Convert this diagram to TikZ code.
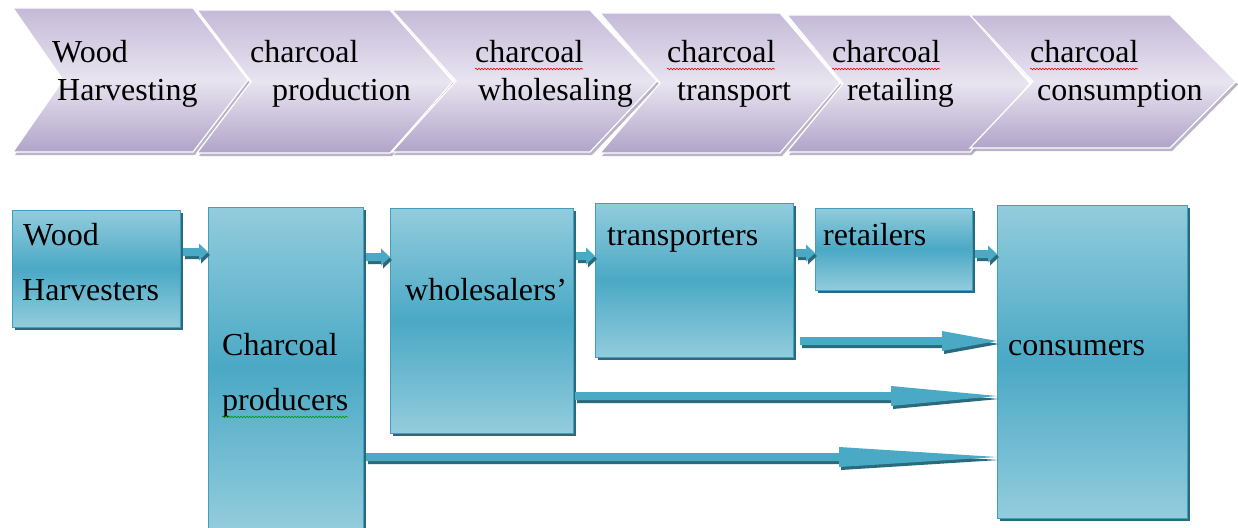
\documentclass[tikz,border=0pt]{standalone}
\usepackage{fontspec}
\setmainfont{Liberation Serif}
\newfontfamily\timesf{Liberation Serif}
\usetikzlibrary{shadows,calc,decorations.pathmorphing}
\definecolor{chevlight}{HTML}{E8E4F0}
\definecolor{chevtop}{HTML}{C4BAD8}
\definecolor{chevbot}{HTML}{B0A4C9}
\definecolor{chevshadow}{HTML}{A9A2B8}
\definecolor{teallight}{HTML}{93CCDD}
\definecolor{tealmid}{HTML}{4AA9C5}
\definecolor{tealline}{HTML}{3F9FBC}
\definecolor{tealshadow}{HTML}{2B6A7C}
\newcommand\chevshape[6]{%
  \pgfmathsetmacro\chvm{(#4+#5)/2}%
  \path[chevron] (#1,#4) -- (#2,#4) -- (#3,\chvm) -- (#2,#5) -- (#1,#5) -- (#6,\chvm) -- cycle;}
% block arrow: #1 start, #2 end, #3 shaft half, #4 head half, #5 head length, #6 start shift
\newcommand\blockarr[6]{%
  \fill[tealshadow,transform canvas={xshift=2pt,yshift=-3pt}] let \p1=#1, \p2=#2 in
    (\x1+#6,\y1+#3) -- (\x2-#5,\y1+#3) -- (\x2-#5,\y1+#4) -- (\x2,\y1) -- (\x2-#5,\y1-#4) -- (\x2-#5,\y1-#3) -- (\x1+#6,\y1-#3) -- cycle;
  \fill[tealmid] let \p1=#1, \p2=#2 in
    (\x1+#6,\y1+#3) -- (\x2-#5,\y1+#3) -- (\x2-#5,\y1+#4) -- (\x2,\y1) -- (\x2-#5,\y1-#4) -- (\x2-#5,\y1-#3) -- (\x1+#6,\y1-#3) -- cycle;}
\begin{document}
\begin{tikzpicture}[x=1pt,y=-1pt,
  chevron/.style={top color=chevtop,bottom color=chevbot,middle color=chevlight,draw=white,line width=1.2pt,
     drop shadow={shadow xshift=2pt,shadow yshift=-3pt,fill=chevshadow,opacity=0.8}},
  tbox/.style={draw=tealline,line width=0.8pt,top color=teallight,bottom color=teallight,middle color=tealmid,
     anchor=north west,inner sep=0pt,outer sep=0pt,
     drop shadow={shadow xshift=3pt,shadow yshift=-3pt,fill=tealshadow,opacity=1}},
  lbl/.style={anchor=base west,inner sep=0pt,font=\timesf\fontsize{32}{38}\selectfont},
  spellred/.style={red,line width=0.6pt,decorate,decoration={snake,amplitude=0.8pt,segment length=3pt}},
  spellgreen/.style={green!60!black,line width=0.6pt,decorate,decoration={snake,amplitude=0.8pt,segment length=3pt}}
]
\useasboundingbox (0,0) rectangle (1238,527);
\fill[white] (0,0) rectangle (1238,527);

% chevrons
\chevshape{13}{193}{248}{8}{152}{63}
\chevshape{197}{390}{453}{10}{153}{251}
\chevshape{392}{590}{657}{10}{152}{456}
\chevshape{600}{780}{840}{13}{153}{660}
\chevshape{787}{970}{1030}{15}{152}{843}
\chevshape{970}{1170}{1236}{15}{148}{1033}

\node[lbl] (c1a) at (52,63) {Wood};
\node[lbl] (c1b) at (57,100) {Harvesting};
\node[lbl] (c2a) at (250,63) {charcoal};
\node[lbl] (c2b) at (272,100) {production};
\node[lbl] (c3a) at (475,63) {charcoal};
\node[lbl] (c3b) at (478,100) {wholesaling};
\node[lbl] (c4a) at (667,63) {charcoal};
\node[lbl] (c4b) at (677,100) {transport};
\node[lbl] (c5a) at (832,63) {charcoal};
\node[lbl] (c5b) at (847,100) {retailing};
\node[lbl] (c6a) at (1030,63) {charcoal};
\node[lbl] (c6b) at (1037,100) {consumption};
\draw[spellred] (475,69) -- (583,69);
\draw[spellred] (667,69) -- (775,69);
\draw[spellred] (832,69) -- (940,69);
\draw[spellred] (1030,69) -- (1138,69);

% boxes
\node[tbox,minimum width=168pt,minimum height=117pt] (wh) at (12,210) {};
\node[tbox,minimum width=155pt,minimum height=322pt] (cp) at (208,207) {};
\node[tbox,minimum width=183pt,minimum height=225pt] (ws) at (390,208) {};
\node[tbox,minimum width=198pt,minimum height=154pt] (tr) at (595,203) {};
\node[tbox,minimum width=157pt,minimum height=82pt] (rt) at (815,208) {};
\node[tbox,minimum width=190pt,minimum height=313pt] (cs) at (997,205) {};

\node[lbl] (t1a) at (23,245) {Wood};
\node[lbl] (t1b) at (22,300) {Harvesters};
\node[lbl] (t2a) at (222,355) {Charcoal};
\node[lbl] (t2b) at (222,410) {producers};
\draw[spellgreen] (222,417) -- (348,417);
\node[lbl] (t3) at (405,300) {wholesalers’};
\node[lbl] (t4) at (607,245) {transporters};
\node[lbl] (t5) at (823,245) {retailers};
\node[lbl] (t6) at (1008,355) {consumers};

% arrows
\coordinate (y1) at (0,252);
\coordinate (y2) at (0,257);
\coordinate (y3) at (0,256);
\coordinate (y4) at (0,253);
\coordinate (y5) at (0,254);
\coordinate (y6) at (0,341);
\coordinate (y7) at (0,396);
\coordinate (y8) at (0,457);
\blockarr{(wh.east |- y1)}{(cp.west |- y1)}{4pt}{8.5pt}{9pt}{3pt}
\blockarr{(cp.east |- y2)}{(ws.west |- y2)}{4pt}{8.5pt}{9pt}{3pt}
\blockarr{(ws.east |- y3)}{(tr.west |- y3)}{4pt}{8.5pt}{9pt}{3pt}
\blockarr{(tr.east |- y4)}{(rt.west |- y4)}{4pt}{8.5pt}{9pt}{3pt}
\blockarr{(rt.east |- y5)}{(cs.west |- y5)}{4pt}{8.5pt}{9pt}{3pt}
\blockarr{(tr.east |- y6)}{(cs.west |- y6)}{4pt}{10pt}{55pt}{7pt}
\blockarr{(ws.east |- y7)}{(cs.west |- y7)}{4pt}{10pt}{106pt}{2pt}
\blockarr{(cp.east |- y8)}{(cs.west |- y8)}{4pt}{10pt}{158pt}{3pt}
\end{tikzpicture}
\end{document}
